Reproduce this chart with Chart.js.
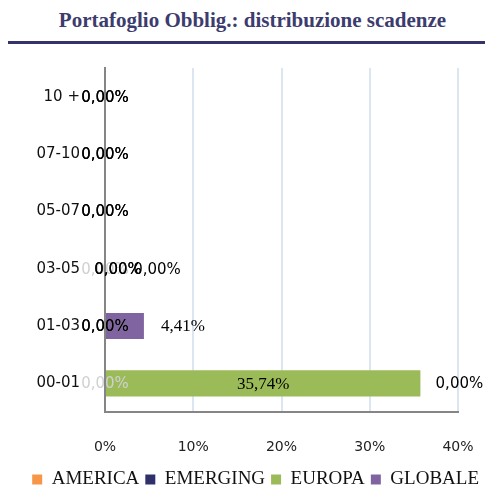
<!DOCTYPE html>
<html>
<head>
<meta charset="utf-8">
<script src="https://cdn.jsdelivr.net/npm/chart.js@4.4.1/dist/chart.umd.min.js"></script>
<style>
  html, body { margin: 0; padding: 0; background: #fff; }
  #wrap { position: relative; width: 485px; height: 489px; }
  #title {
    position: absolute; left: 20px; top: 8px; width: 465px; text-align: center;
    font: bold 21px "Liberation Serif", serif; color: #3c3c6e;
  }
  #rule { position: absolute; left: 8px; right: 0; top: 41px; height: 3px; background: #34346a; }
  canvas { position: absolute; left: 0; top: 0; }
</style>
</head>
<body>
<div id="wrap">
  <div id="title">Portafoglio Obblig.: distribuzione scadenze</div>
  <div id="rule"></div>
  <canvas id="chart" width="485" height="489"></canvas>
</div>
<script>
// maturity buckets, top to bottom
const buckets = ["10 +", "07-10", "05-07", "03-05", "01-03", "00-01"];

// weights in % per area (null = no value / no label)
const america  = [0, 0, 0, 0, 0, 0];
const emerging = [0, 0, 0, 0, 0, null];
const europa   = [0, 0, 0, 0, 0, 35.74];
const globale  = [null, null, null, 0, 4.41, 0];

const xTicks = [0, 10, 20, 30, 40];

const fmt = v => v.toFixed(2).replace(".", ",") + "%";

// value labels: grey for AMERICA, black for the rest, GLOBALE sits past the end of the stack
const valueLabels = {
  id: "valueLabels",
  afterDatasetsDraw(chart) {
    const ctx = chart.ctx;
    ctx.save();
    ctx.textAlign = "center";
    ctx.textBaseline = "middle";
    chart.data.datasets.forEach((ds, d) => {
      const meta = chart.getDatasetMeta(d);
      meta.data.forEach((bar, i) => {
        const v = ds.data[i];
        if (v === null || v === undefined) return;
        let x = (bar.x + bar.base) / 2;
        if (ds.label === "GLOBALE") {
          x = Math.max(bar.x, bar.base) + 39;
        }
        // the 03-05 labels are spread a bit so they don't sit on top of each other
        if (buckets[i] === "03-05" && d > 0) x += 13;
        ctx.fillStyle = ds.label === "AMERICA" ? "#d0d0d0" : "#000";
        ctx.font = v > 0 ? '17px "Liberation Serif"' : '15px "DejaVu Sans"';
        ctx.fillText(fmt(v), x, bar.y + 1);
      });
    });
    ctx.restore();
  }
};

new Chart(document.getElementById("chart"), {
  type: "bar",
  data: {
    labels: buckets,
    datasets: [
      { label: "AMERICA",  data: america,  backgroundColor: "#f79646" },
      { label: "EMERGING", data: emerging, backgroundColor: "#2f3069" },
      { label: "EUROPA",   data: europa,   backgroundColor: "#9bbb59" },
      { label: "GLOBALE",  data: globale,  backgroundColor: "#8064a2" }
    ]
  },
  options: {
    indexAxis: "y",
    responsive: false,
    animation: false,
    events: [],
    layout: { padding: { top: 68, right: 0, bottom: -10, left: 0 } },
    datasets: { bar: { categoryPercentage: 1, barPercentage: 0.455 } },
    scales: {
      x: {
        stacked: true,
        min: 0,
        max: 40,
        afterBuildTicks: s => { s.ticks = xTicks.map(v => ({ value: v })); },
        afterFit: s => { s.height = 52; s.paddingLeft = 0; s.paddingRight = 27; },
        grid: { color: "#dce6f2", lineWidth: 2, drawTicks: false },
        border: { color: "#858585", width: 2 },
        ticks: {
          padding: 27,
          color: "#222",
          font: { family: "DejaVu Sans", size: 14 },
          callback: v => v + "%"
        }
      },
      y: {
        stacked: true,
        afterFit: s => { s.width = 105; },
        grid: { display: false, drawTicks: false },
        border: { color: "#858585", width: 2 },
        ticks: {
          padding: 25,
          color: "#111",
          font: { family: "DejaVu Sans", size: 15 }
        }
      }
    },
    plugins: {
      tooltip: { enabled: false },
      legend: {
        position: "bottom",
        align: "end",
        labels: {
          boxWidth: 10,
          boxHeight: 10,
          padding: 6,
          color: "#111",
          font: { family: "Liberation Serif", size: 19 }
        }
      }
    }
  },
  plugins: [valueLabels]
});
</script>
</body>
</html>
